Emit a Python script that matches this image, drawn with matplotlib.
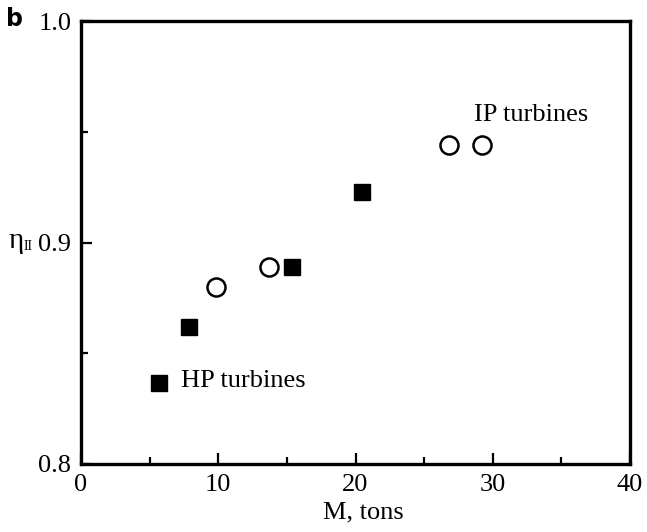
import matplotlib
matplotlib.use("Agg")
import matplotlib.pyplot as plt
from matplotlib.ticker import MultipleLocator

# HP turbines (filled squares)
hp_mass = [7.9, 15.4, 20.5]
hp_eff = [0.862, 0.889, 0.923]

# IP turbines (open circles)
ip_mass = [9.8, 13.7, 26.8, 29.2]
ip_eff = [0.880, 0.889, 0.944, 0.944]

xticks = [0, 10, 20, 30, 40]
yticks = [0.8, 0.9, 1.0]

plt.rcParams['font.family'] = ['Liberation Serif', 'DejaVu Serif']

fig = plt.figure(figsize=(6.47, 5.32), dpi=100)
ax = fig.add_axes([81 / 647, 1 - 464 / 532, 549 / 647, 443 / 532])

ax.plot(hp_mass, hp_eff, 's', color='black', markersize=11.5, linestyle='none')
ax.plot(ip_mass, ip_eff, 'o', markerfacecolor='white', markeredgecolor='black',
        markeredgewidth=1.8, markersize=13, linestyle='none')

# in-plot labels
ax.plot([5.7], [0.8367], 's', color='black', markersize=11.5)
ax.text(7.25, 0.8375, 'HP turbines', fontsize=19, va='center', ha='left')
ax.text(28.6, 0.9575, 'IP turbines', fontsize=19, va='center', ha='left')

ax.set_xlim(0, 40)
ax.set_ylim(0.8, 1.0)
ax.set_xticks(xticks)
ax.set_yticks(yticks)
ax.set_xticklabels([str(t) for t in xticks])
ax.set_yticklabels(['%.1f' % t for t in yticks])
ax.xaxis.set_minor_locator(MultipleLocator(5))
ax.yaxis.set_minor_locator(MultipleLocator(0.05))
ax.tick_params(which='both', direction='in', labelsize=19, width=1.6, top=False, right=False)
ax.tick_params(which='major', length=8, pad=7)
ax.tick_params(which='minor', length=5)
for sp in ax.spines.values():
    sp.set_linewidth(2.4)

ax.set_xlabel('M, tons', fontsize=19)
ax.xaxis.set_label_coords(0.515, -0.085)

# y label: eta with subscript II, horizontal
fig.text(24 / 647, 1 - 241 / 532, 'η', fontsize=21, ha='right', va='center')
fig.text(24 / 647, 1 - 246 / 532, 'II', fontsize=10, ha='left', va='center')

fig.text(6 / 647, 1 - 19 / 532, 'b', fontsize=17, fontweight='bold', family='DejaVu Sans',
         ha='left', va='center')

fig.savefig('out.png', dpi=100)
